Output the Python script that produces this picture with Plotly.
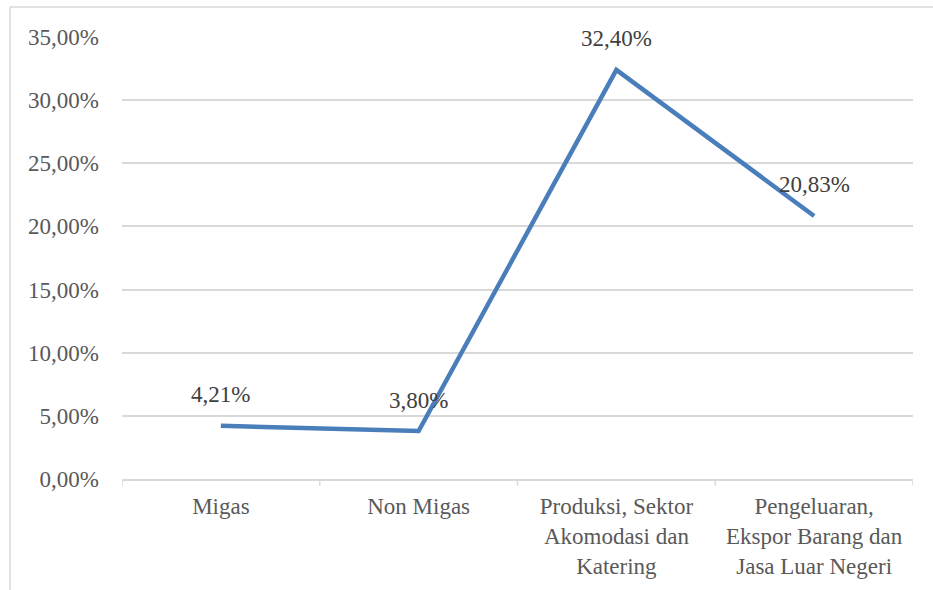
import plotly.graph_objects as go

categories = ["Migas", "Non Migas", "Produksi, Sektor<br>Akomodasi dan<br>Katering",
              "Pengeluaran,<br>Ekspor Barang dan<br>Jasa Luar Negeri"]
values = [4.21, 3.80, 32.40, 20.83]
labels = ["4,21%", "3,80%", "32,40%", "20,83%"]
y_ticks = [0, 5, 10, 15, 20, 25, 30, 35]
y_tick_text = ["0,00%", "5,00%", "10,00%", "15,00%", "20,00%", "25,00%", "30,00%", "35,00%"]

FONT = "Liberation Serif"
TXT = "#595959"
FS = 23

fig = go.Figure()
fig.add_trace(go.Scatter(
    x=list(range(len(categories))), y=values, mode="lines",
    line=dict(color="#4A7EBB", width=4.5), hoverinfo="skip"))

for i, (v, t) in enumerate(zip(values, labels)):
    fig.add_annotation(x=i, y=v, text=t, showarrow=False, yshift=31,
                       font=dict(family=FONT, size=FS, color="#404040"))

L, R, T, B = 122, 20, 37, 111
pw, ph = 933 - L - R, 590 - T - B
bx = (10 - L) / pw
by = (479 - 7) / ph
fig.add_shape(type="line", xref="paper", yref="paper", x0=bx, x1=bx, y0=by, y1=-0.5,
              line=dict(color="#D9D9D9", width=1.5))
fig.add_shape(type="line", xref="paper", yref="paper", x0=bx, x1=1.2, y0=by, y1=by,
              line=dict(color="#D9D9D9", width=1.5))

fig.update_layout(
    width=933, height=590,
    margin=dict(l=L, r=R, t=T, b=B),
    paper_bgcolor="white", plot_bgcolor="white",
    showlegend=False,
    font=dict(family=FONT, size=FS, color=TXT),
    xaxis=dict(
        tickmode="array", tickvals=list(range(len(categories))), ticktext=categories,
        range=[-0.5, 3.5], showgrid=False, zeroline=False,
        showline=True, linecolor="#D9D9D9", linewidth=1.5,
        ticks="", ticklabelstandoff=6, tickfont=dict(family=FONT, size=FS, color=TXT),
        fixedrange=True,
    ),
    yaxis=dict(
        range=[0, 35], tickmode="array", tickvals=y_ticks, ticktext=y_tick_text,
        showgrid=True, gridcolor="#D9D9D9", gridwidth=1.5, zeroline=False,
        showline=False, ticks="", ticklabelstandoff=22,
        tickfont=dict(family=FONT, size=FS, color=TXT),
    ),
)

# category boundary tick marks
for b in [-0.5, 0.5, 1.5, 2.5, 3.5]:
    fig.add_shape(type="line", xref="x", yref="paper", x0=b, x1=b, y0=0, y1=-0.015,
                  line=dict(color="#D9D9D9", width=1.5))

fig.write_html("out.html")
